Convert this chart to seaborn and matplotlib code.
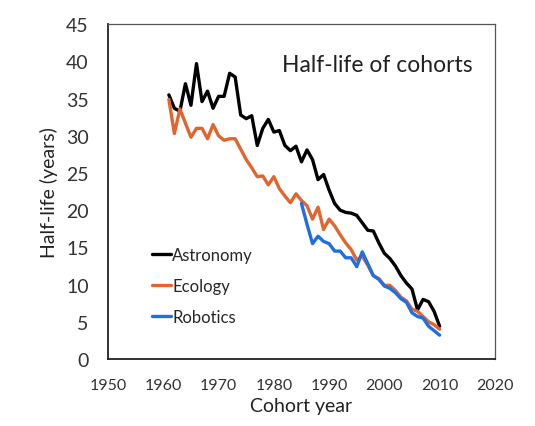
import matplotlib
matplotlib.use('Agg')
import matplotlib.pyplot as plt
import seaborn as sns
import pandas as pd

#%% Data
years = list(range(1961, 2011))

astronomy = [35.5, 33.7, 33.3, 37.0, 34.1, 39.7, 34.6, 36.0, 33.7, 35.3,
             35.3, 38.4, 37.9, 32.8, 32.3, 32.7, 28.7, 31.0, 32.2, 30.5,
             30.7, 28.7, 28.0, 28.6, 26.5, 28.1, 26.8, 24.1, 24.8, 22.7,
             20.9, 20.0, 19.7, 19.6, 19.3, 18.3, 17.3, 17.2, 15.6, 14.2,
             13.5, 12.5, 11.2, 10.2, 9.4, 6.6, 8.0, 7.7, 6.4, 4.4]

ecology = [34.9, 30.3, 33.6, 31.7, 29.8, 31.0, 31.0, 29.6, 31.5, 30.0,
           29.4, 29.6, 29.6, 28.2, 26.8, 25.7, 24.5, 24.6, 23.4, 24.5,
           22.9, 21.9, 21.0, 22.2, 21.3, 20.6, 18.8, 20.4, 17.4, 18.8,
           17.9, 16.7, 15.6, 14.7, 13.3, 13.8, 12.6, 11.2, 10.8, 9.9,
           9.9, 9.2, 8.3, 7.8, 6.7, 6.4, 5.7, 5.0, 4.6, 4.0]

robotics_years = list(range(1985, 2011))
robotics = [20.9, 18.1, 15.5, 16.5, 15.8, 15.5, 14.5, 14.5, 13.6, 13.6,
            12.4, 14.4, 12.8, 11.2, 10.7, 9.8, 9.5, 8.9, 8.1, 7.6,
            6.2, 5.7, 5.5, 4.4, 3.8, 3.2]

field_colors = {'Astronomy': 'black', 'Ecology': '#E0652F', 'Robotics': '#1F6FE3'}

#%% Long table for seaborn
df = pd.concat([
    pd.DataFrame({'year': years, 'half_life': astronomy, 'field': 'Astronomy'}),
    pd.DataFrame({'year': years, 'half_life': ecology, 'field': 'Ecology'}),
    pd.DataFrame({'year': robotics_years, 'half_life': robotics, 'field': 'Robotics'}),
])

sns.set_style('white')
plt.rcParams['font.family'] = ['Lato', 'DejaVu Sans']

fig = plt.figure(figsize=(5.35, 4.27), dpi=100)
ax = fig.add_axes([0.202, 0.157, 0.723, 0.784])

sns.lineplot(data=df, x='year', y='half_life', hue='field',
             palette=field_colors, linewidth=2.4, ax=ax)

ax.set_xlim(1950, 2020)
ax.set_ylim(0, 45)
ax.set_xticks(range(1950, 2021, 10))
ax.set_yticks(range(0, 46, 5))
ax.tick_params(axis='x', direction='in', length=4, color='#bbbbbb',
               labelsize=11.5, labelcolor='#333333', pad=14)
ax.tick_params(axis='y', length=0, labelsize=14, labelcolor='#333333', pad=14)
ax.set_xlabel('Cohort year', fontsize=14, color='#222222', labelpad=3)
ax.set_ylabel('Half-life (years)', fontsize=14, color='#222222', labelpad=6)

for side in ['left', 'bottom']:
    ax.spines[side].set_color('#222222')
    ax.spines[side].set_linewidth(1.3)
for side in ['top', 'right']:
    ax.spines[side].set_color('#555555')
    ax.spines[side].set_linewidth(0.9)

ax.text(0.943, 0.88, 'Half-life of cohorts', transform=ax.transAxes,
        ha='right', va='center', fontsize=16.5, color='#222222')

ax.legend(loc='upper left', bbox_to_anchor=(0.093, 0.36), frameon=False,
          fontsize=12, handlelength=1.1, handletextpad=0.1, labelspacing=0.9,
          borderpad=0)

fig.savefig('out.png', dpi=100)
